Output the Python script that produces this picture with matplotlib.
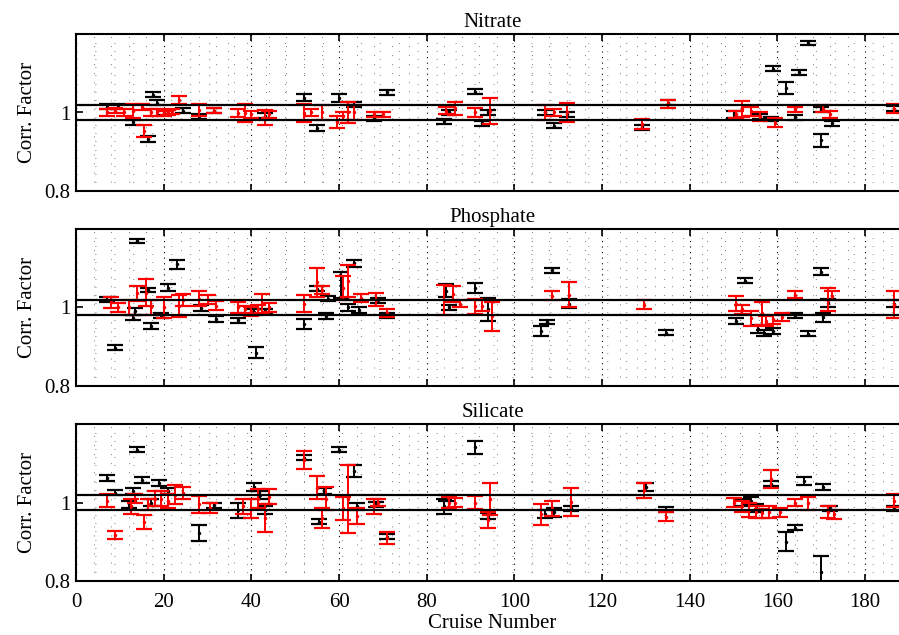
import numpy as np
import matplotlib
matplotlib.use("Agg")
import matplotlib.pyplot as plt
from matplotlib.ticker import MultipleLocator, FixedLocator

plt.rcParams['font.family'] = ['Liberation Serif', 'DejaVu Serif']

# ---------------- data ----------------
titles = ["Nitrate", "Phosphate", "Silicate"]
ref_upper = 1.02
ref_lower = 0.98

nitrate_black_x = [7, 9.5, 13, 16.5, 17.5, 18.5, 20, 24.5, 28, 31.5, 43, 52, 55, 60, 63.5, 68, 71, 84, 85, 91, 92.5, 94,
                   107, 109, 112, 129, 135, 150, 156, 158.5, 159, 162, 164, 165, 167, 170, 170, 172.5, 186.5]
nitrate_black_y = [1.015, 1.015, 0.975, 0.932, 1.046, 1.025, 1.0, 1.005, 0.99, 1.005, 0.992, 1.038, 0.96, 1.037, 1.02,
                   0.985, 1.052, 0.977, 1.0, 1.053, 0.972, 1.0, 1.0, 0.966, 0.995, 0.962, 1.025, 0.995, 0.99, 0.983,
                   1.112, 1.062, 0.988, 1.103, 1.178, 0.929, 1.008, 0.972, 1.01]
nitrate_black_e = [0.006, 0.006, 0.007, 0.007, 0.007, 0.006, 0.007, 0.006, 0.006, 0.006, 0.007, 0.009, 0.008, 0.01,
                   0.006, 0.006, 0.006, 0.007, 0.006, 0.006, 0.007, 0.007, 0.006, 0.006, 0.007, 0.007, 0.006, 0.01,
                   0.006, 0.006, 0.006, 0.015, 0.006, 0.006, 0.006, 0.016, 0.006, 0.006, 0.006]
nitrate_red_x = [7, 9, 11, 13, 15.5, 15, 17, 18.5, 20, 21, 22, 23.5, 28, 31.5, 37, 38.5, 40, 43, 44, 52, 53.5, 56, 59.5,
                 61, 62, 63.5, 68, 70, 84.5, 86.5, 91, 94.5, 107, 109, 112, 129, 135, 150.5, 152, 154, 156, 159.5,
                 164, 170.5, 172, 186.5]
nitrate_red_y = [1.0, 1.005, 1.0, 1.005, 0.952, 1.015, 1.0, 1.0, 0.998, 1.0, 1.003, 1.032, 1.007, 1.005, 0.998, 0.999,
                 0.995, 0.987, 0.995, 0.999, 1.0, 1.0, 0.975, 0.99, 1.0, 1.0, 0.995, 0.995, 1.005, 1.011, 1.0, 1.004,
                 1.0, 1.0, 1.0, 0.97, 1.022, 0.995, 1.009, 1.003, 0.99, 0.974, 1.008, 1.01, 0.995, 1.01]
nitrate_red_e = [0.01, 0.007, 0.008, 0.018, 0.015, 0.008, 0.01, 0.008, 0.007, 0.007, 0.007, 0.01, 0.016, 0.007, 0.01,
                 0.024, 0.01, 0.02, 0.01, 0.024, 0.01, 0.02, 0.015, 0.01, 0.027, 0.02, 0.007, 0.007, 0.01, 0.017,
                 0.012, 0.033, 0.02, 0.01, 0.025, 0.013, 0.01, 0.01, 0.02, 0.012, 0.012, 0.012, 0.007, 0.01, 0.01,
                 0.012]

phosphate_black_x = [7, 9, 13, 13.5, 14, 16.5, 17, 19.5, 21, 23, 28.5, 32, 37, 40.5, 41, 43, 52, 55, 57, 57.5, 60.5,
                     62, 63.5, 64.5, 69, 71, 84.5, 85, 91, 94, 106, 107.5, 108.5, 112.5, 134.5, 150.5, 152.5, 155.5,
                     157, 159, 164, 167, 170, 170.5, 171.5, 186.5]
phosphate_black_y = [1.02, 0.897, 0.974, 0.99, 1.17, 1.045, 0.953, 0.98, 1.05, 1.11, 0.998, 0.97, 0.967, 0.988, 0.884,
                     0.99, 0.957, 1.048, 0.978, 1.023, 1.058, 1.0, 1.113, 0.993, 1.018, 0.98, 1.043, 1.0, 1.05, 0.995,
                     0.94, 0.963, 1.095, 1.01, 0.936, 0.965, 1.069, 0.945, 0.935, 0.94, 0.98, 0.933, 1.092, 0.975,
                     1.012, 1.01]
phosphate_black_e = [0.006, 0.006, 0.007, 0.008, 0.006, 0.006, 0.007, 0.007, 0.009, 0.011, 0.008, 0.007, 0.007, 0.007,
                     0.014, 0.007, 0.013, 0.007, 0.008, 0.006, 0.033, 0.01, 0.009, 0.007, 0.006, 0.007, 0.017, 0.006,
                     0.012, 0.03, 0.013, 0.006, 0.006, 0.012, 0.007, 0.007, 0.007, 0.01, 0.007, 0.007, 0.006, 0.007,
                     0.008, 0.012, 0.01, 0.01]
phosphate_red_x = [8, 9.5, 12, 14, 16, 17, 20, 23.5, 24.5, 28, 30, 32, 37, 38.5, 40, 41.5, 42.5, 44, 52, 55, 56, 61,
                   62, 65, 68.5, 71, 84, 86, 87.5, 91, 92.5, 95, 108.5, 112.5, 129.5, 150.5, 152, 154, 156.5, 157.5,
                   159, 161, 164, 171.5, 172.5, 186.5]
phosphate_red_y = [1.013, 1.0, 1.0, 1.036, 1.038, 1.0, 1.0, 1.004, 1.02, 1.023, 1.02, 1.005, 1.0, 0.995, 0.99, 0.995,
                   1.01, 1.0, 1.01, 1.064, 1.045, 1.05, 1.068, 1.025, 1.02, 0.986, 1.02, 1.035, 1.01, 1.003, 1.005,
                   0.977, 1.03, 1.032, 1.007, 1.01, 0.995, 0.972, 0.985, 0.965, 0.97, 0.975, 1.033, 1.02, 1.03, 1.007]
phosphate_red_e = [0.013, 0.012, 0.02, 0.02, 0.035, 0.02, 0.028, 0.028, 0.015, 0.02, 0.012, 0.012, 0.014, 0.01, 0.012,
                   0.012, 0.024, 0.012, 0.022, 0.036, 0.01, 0.03, 0.04, 0.01, 0.016, 0.01, 0.038, 0.02, 0.008, 0.02,
                   0.015, 0.037, 0.012, 0.032, 0.012, 0.02, 0.012, 0.02, 0.03, 0.012, 0.012, 0.01, 0.009, 0.03, 0.012,
                   0.034]

silicate_black_x = [7, 9, 12, 13, 14, 15, 17, 19, 21, 28, 31.5, 37, 40.5, 42, 43, 52, 55.5, 56.5, 60, 63.5, 64, 68.5,
                    71, 84, 84.5, 91, 94, 107, 109, 113, 130, 134.5, 152, 154, 155, 158.5, 162, 164, 166, 170, 170.5,
                    172, 186.5]
silicate_black_y = [1.063, 1.025, 0.995, 1.03, 1.135, 1.058, 1.0, 1.05, 1.03, 0.922, 0.993, 0.98, 1.04, 1.02, 0.98,
                    1.115, 0.951, 1.03, 1.135, 1.081, 0.99, 0.995, 0.913, 0.99, 1.012, 1.141, 0.965, 0.97, 0.975,
                    0.985, 1.04, 0.982, 1.0, 1.005, 0.985, 1.048, 0.9, 0.936, 1.054, 0.823, 1.04, 0.985, 0.985]
silicate_black_e = [0.008, 0.006, 0.008, 0.007, 0.006, 0.007, 0.01, 0.007, 0.008, 0.02, 0.007, 0.02, 0.01, 0.01, 0.01,
                    0.007, 0.007, 0.007, 0.007, 0.016, 0.008, 0.007, 0.006, 0.02, 0.007, 0.017, 0.007, 0.01, 0.012,
                    0.007, 0.01, 0.007, 0.01, 0.008, 0.01, 0.006, 0.024, 0.006, 0.01, 0.04, 0.007, 0.007, 0.007]
silicate_red_x = [7, 9, 12.5, 13.5, 15.5, 16.5, 18, 19.5, 21, 22.5, 24.5, 28, 30.5, 38, 40, 41.5, 43, 44, 52, 55, 56,
                  57, 61, 62, 64, 68, 69, 71, 85, 86.5, 91, 94, 94.5, 106, 108.5, 113, 129.5, 134.5, 150, 152, 153.5,
                  155, 156.5, 158, 158.5, 160.5, 164, 167, 171.5, 173, 186.5]
silicate_red_y = [1.005, 0.917, 0.99, 1.01, 0.95, 0.995, 1.01, 1.01, 1.005, 1.02, 1.025, 0.995, 0.985, 0.99, 0.985,
                  1.01, 0.96, 1.015, 1.108, 1.038, 0.96, 1.01, 0.985, 1.01, 0.965, 0.99, 1.0, 0.909, 1.0, 1.0, 1.0,
                  0.955, 1.009, 0.97, 0.985, 1.001, 1.031, 0.964, 1.0, 0.99, 0.98, 0.975, 0.972, 0.975, 1.06, 0.975,
                  1.0, 0.998, 0.975, 0.97, 1.005]
silicate_red_e = [0.016, 0.01, 0.02, 0.012, 0.018, 0.015, 0.02, 0.02, 0.018, 0.025, 0.015, 0.022, 0.013, 0.02, 0.025,
                  0.025, 0.035, 0.02, 0.023, 0.03, 0.025, 0.03, 0.03, 0.087, 0.02, 0.02, 0.01, 0.016, 0.015, 0.012,
                  0.016, 0.02, 0.041, 0.027, 0.02, 0.035, 0.02, 0.012, 0.012, 0.015, 0.018, 0.015, 0.012, 0.015,
                  0.023, 0.012, 0.01, 0.017, 0.015, 0.012, 0.016]

panels = [
    (nitrate_black_x, nitrate_black_y, nitrate_black_e, nitrate_red_x, nitrate_red_y, nitrate_red_e),
    (phosphate_black_x, phosphate_black_y, phosphate_black_e, phosphate_red_x, phosphate_red_y, phosphate_red_e),
    (silicate_black_x, silicate_black_y, silicate_black_e, silicate_red_x, silicate_red_y, silicate_red_e),
]

# ---------------- figure ----------------
W, H = 899, 635
fig = plt.figure(figsize=(W / 100, H / 100), dpi=100)

left = 76 / W
width = (190 * 4.384) / W
height = 156.4 / H
bottoms = [(H - 190.7) / H, (H - 385.7) / H, (H - 580.7) / H]

FS = 15
for i, (title, data, bot) in enumerate(zip(titles, panels, bottoms)):
    bx, by, be, rx, ry, re = data
    ax = fig.add_axes([left, bot, width, height])
    ax.set_xlim(0, 190)
    ax.set_ylim(0.8, 1.2)

    ax.errorbar(bx, by, yerr=be, fmt='.', color='black', ecolor='black', markersize=3,
                elinewidth=1.4, capsize=5.8, capthick=1.6, zorder=3)
    ax.errorbar(rx, ry, yerr=re, fmt='.', color='red', ecolor='red', markersize=3,
                elinewidth=1.4, capsize=5.8, capthick=1.6, zorder=4)
    ax.axhline(ref_upper, color='black', lw=1.6, zorder=5)
    ax.axhline(ref_lower, color='black', lw=1.6, zorder=5)

    ax.set_xticks(np.arange(0, 181, 20))
    ax.xaxis.set_minor_locator(MultipleLocator(4))
    ax.set_yticks([0.8, 1.0])
    ax.set_yticklabels(['0.8', '1'])
    ax.yaxis.set_minor_locator(FixedLocator(np.linspace(0.8, 1.2, 20)[1:-1]))

    ax.xaxis.grid(True, which='major', color='black', linestyle=(0, (1, 4)), lw=0.8, zorder=0)
    ax.xaxis.grid(True, which='minor', color='0.4', linestyle=(0, (1, 9)), lw=0.65, zorder=0)
    ax.yaxis.grid(True, which='minor', color='0.4', linestyle=(0, (1, 20)), lw=0.65, zorder=0)
    ax.yaxis.grid(False, which='major')
    ax.set_axisbelow(True)

    ax.tick_params(which='major', direction='in', length=5, width=1.2, top=True, right=True,
                   labelsize=FS, pad=4)
    ax.tick_params(axis='x', which='major', pad=9)
    ax.tick_params(which='minor', length=0)
    for sp in ax.spines.values():
        sp.set_linewidth(1.5)

    if i < 2:
        ax.tick_params(labelbottom=False)
    else:
        ax.set_xlabel('Cruise Number', fontsize=FS, labelpad=1)
    ax.set_ylabel('Corr. Factor', fontsize=FS, labelpad=5)
    ax.set_title(title, fontsize=FS, pad=5)

fig.savefig('out.png', dpi=100)
